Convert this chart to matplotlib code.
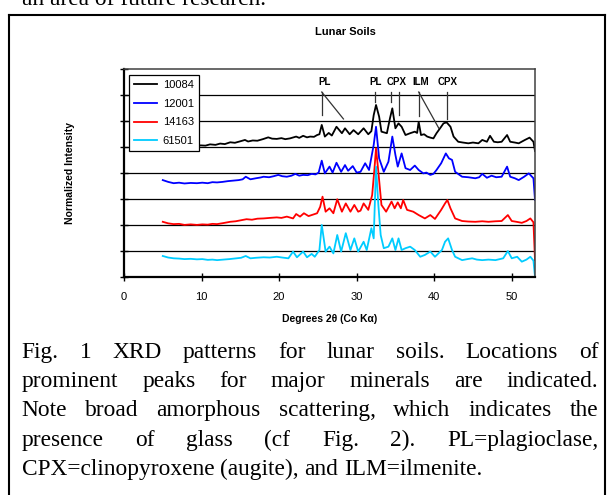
import matplotlib
matplotlib.use("Agg")
import matplotlib.pyplot as plt
from matplotlib.lines import Line2D

# sample names and colours
samples = ["10084", "12001", "14163", "61501"]
colors = ["#000000", "#0000FF", "#FF0000", "#00CCFF"]

# 10084 (offset trace, top)
x_10084 = [5.0, 5.6, 6.3, 7.0, 7.7, 8.4, 9.2, 9.9, 10.5, 11.1, 11.8, 12.4, 13.0, 13.7, 14.3, 14.9,
           15.6, 16.0, 16.6, 17.2, 17.9, 18.6, 19.1, 19.7, 20.3, 20.8, 21.4, 22.2, 22.6, 23.1, 23.6,
           24.0, 24.5, 24.9, 25.2, 25.5, 25.9, 26.4, 26.8, 27.4, 28.1, 28.5, 29.1, 29.6, 30.2, 30.9,
           31.5, 31.9, 32.2, 32.5, 32.9, 33.2, 33.9, 34.3, 34.6, 35.0, 35.4, 35.8, 36.3, 36.9, 37.5,
           37.8, 38.0, 38.3, 38.7, 39.1, 39.5, 39.9, 40.3, 40.9, 41.2, 41.6, 42.1, 42.5, 43.1, 43.7,
           44.4, 45.0, 45.7, 46.2, 46.8, 47.2, 47.7, 48.2, 48.7, 49.4, 49.8, 50.4, 50.9, 51.7, 52.3,
           52.8, 53.0]
y_10084 = [5.03, 5.01, 5.03, 5.02, 5.04, 5.03, 5.05, 5.07, 5.06, 5.11, 5.09, 5.14, 5.12, 5.19, 5.17, 5.22,
           5.28, 5.22, 5.26, 5.25, 5.31, 5.38, 5.33, 5.32, 5.35, 5.31, 5.34, 5.41, 5.36, 5.44, 5.38,
           5.41, 5.40, 5.47, 5.50, 5.86, 5.41, 5.55, 5.45, 5.79, 5.54, 5.73, 5.50, 5.66, 5.50, 5.73,
           5.50, 5.62, 6.24, 6.63, 6.18, 5.60, 5.54, 6.12, 6.50, 5.73, 5.92, 5.79, 5.47, 5.54, 5.60,
           5.55, 5.98, 5.47, 5.50, 5.41, 5.37, 5.34, 5.54, 5.79, 5.92, 5.96, 5.79, 5.41, 5.21, 5.18,
           5.15, 5.18, 5.15, 5.28, 5.21, 5.44, 5.21, 5.19, 5.21, 5.47, 5.21, 5.18, 5.15, 5.28, 5.37,
           5.21, 4.85]

# 12001
x_12001 = [5.0, 5.7, 6.4, 7.1, 7.8, 8.6, 9.4, 10.1, 10.8, 11.4, 12.0, 12.7, 13.4, 14.1, 14.8, 15.3,
           15.7, 16.3, 17.0, 17.6, 18.0, 18.7, 19.3, 19.9, 20.4, 21.0, 21.6, 22.1, 22.6, 23.1, 23.7,
           24.2, 24.7, 25.1, 25.5, 25.9, 26.5, 26.9, 27.4, 28.0, 28.5, 28.9, 29.5, 30.0, 30.5, 31.1,
           31.6, 32.2, 32.5, 32.9, 33.5, 34.1, 34.6, 35.0, 35.3, 35.8, 36.3, 36.9, 37.5, 38.0, 38.6,
           39.0, 39.5, 39.9, 40.3, 40.9, 41.5, 41.9, 42.3, 42.7, 43.6, 44.4, 45.3, 45.8, 46.2, 46.8,
           47.4, 48.0, 48.7, 49.4, 49.8, 50.4, 50.9, 51.6, 52.2, 52.8, 53.0]
y_12001 = [3.73, 3.66, 3.61, 3.63, 3.60, 3.62, 3.61, 3.63, 3.61, 3.65, 3.64, 3.66, 3.69, 3.71, 3.73, 3.76,
           3.86, 3.76, 3.80, 3.83, 3.86, 3.84, 3.88, 3.93, 3.88, 3.86, 3.90, 3.97, 3.90, 3.93, 3.92,
           3.97, 3.95, 4.02, 4.48, 3.99, 4.25, 4.02, 4.40, 4.05, 4.31, 4.09, 4.27, 4.02, 4.05, 4.38,
           4.12, 5.09, 5.79, 4.57, 4.05, 4.44, 5.41, 4.70, 4.25, 4.76, 4.19, 4.12, 4.29, 4.12, 3.99,
           4.02, 3.93, 3.97, 4.12, 4.38, 4.76, 4.57, 4.51, 4.05, 3.86, 3.84, 3.80, 3.84, 3.97, 3.82,
           3.90, 3.84, 3.86, 4.25, 3.86, 3.80, 3.73, 3.86, 3.99, 3.80, 2.96]

# 14163
x_14163 = [5.0, 5.7, 6.4, 7.1, 7.8, 8.6, 9.4, 10.1, 10.8, 11.4, 12.0, 12.8, 13.7, 14.4, 15.1, 15.8,
           16.5, 17.2, 18.0, 18.8, 19.7, 20.3, 21.0, 21.8, 22.2, 22.7, 23.2, 23.8, 24.4, 24.9, 25.3,
           25.6, 26.0, 26.5, 27.0, 27.5, 28.1, 28.6, 29.2, 29.7, 30.2, 30.5, 30.9, 31.5, 32.0, 32.3,
           32.5, 32.8, 33.2, 33.8, 34.5, 34.9, 35.3, 35.7, 36.0, 36.5, 37.3, 38.0, 38.8, 39.5, 40.1,
           40.9, 41.4, 41.7, 42.1, 42.7, 43.6, 44.4, 45.3, 46.2, 47.0, 47.9, 48.7, 49.5, 50.0, 50.6,
           51.3, 51.9, 52.4, 52.8, 53.0]
y_14163 = [2.12, 2.06, 2.03, 2.04, 2.00, 2.02, 2.00, 2.02, 2.01, 2.04, 2.03, 2.07, 2.12, 2.14, 2.18, 2.22,
           2.20, 2.24, 2.25, 2.27, 2.29, 2.27, 2.32, 2.25, 2.42, 2.32, 2.45, 2.34, 2.40, 2.45, 2.70,
           3.09, 2.51, 2.64, 2.45, 2.99, 2.51, 2.83, 2.51, 2.77, 2.51, 2.55, 2.83, 2.58, 3.15, 4.18,
           4.96, 4.05, 2.77, 2.51, 2.90, 2.64, 2.87, 2.64, 2.96, 2.58, 2.51, 2.38, 2.25, 2.38, 2.23,
           2.58, 2.83, 2.96, 2.64, 2.25, 2.15, 2.13, 2.12, 2.14, 2.12, 2.14, 2.15, 2.38, 2.15, 2.12,
           2.08, 2.15, 2.25, 2.10, 0.64]

# 61501 (bottom)
x_61501 = [5.0, 5.7, 6.4, 7.1, 7.8, 8.6, 9.4, 10.1, 10.8, 11.4, 12.0, 12.8, 13.6, 14.5, 15.1, 15.7,
           16.3, 17.0, 18.0, 18.8, 19.7, 20.4, 21.2, 21.8, 22.3, 23.1, 23.6, 24.2, 24.6, 25.2, 25.5,
           26.0, 26.5, 27.0, 27.5, 28.0, 28.6, 29.2, 29.7, 30.2, 30.9, 31.3, 31.9, 32.2, 32.5, 32.8,
           33.1, 33.5, 34.1, 34.6, 35.0, 35.4, 35.8, 36.3, 36.9, 37.5, 38.2, 38.8, 39.5, 40.1, 41.0,
           41.4, 41.8, 42.3, 42.7, 43.6, 44.3, 44.9, 45.5, 46.2, 47.0, 47.9, 48.9, 49.5, 50.0, 50.7,
           51.3, 51.9, 52.4, 52.8, 53.0]
y_61501 = [0.80, 0.74, 0.71, 0.70, 0.68, 0.69, 0.67, 0.68, 0.65, 0.66, 0.64, 0.66, 0.68, 0.71, 0.73, 0.80,
           0.71, 0.73, 0.75, 0.74, 0.77, 0.74, 0.71, 0.97, 0.75, 0.97, 0.75, 0.88, 0.77, 1.03, 2.00,
           0.97, 1.16, 0.90, 1.61, 0.97, 1.68, 1.03, 1.48, 0.97, 1.35, 1.03, 1.87, 1.48, 4.25, 2.77,
           1.61, 1.10, 1.16, 1.48, 1.03, 1.48, 1.03, 1.10, 1.16, 1.03, 0.77, 0.84, 0.97, 0.77, 1.03,
           1.35, 1.48, 1.03, 0.77, 0.64, 0.68, 0.71, 0.66, 0.64, 0.66, 0.64, 0.71, 0.99, 0.71, 0.77,
           0.58, 0.66, 0.77, 0.62, 0.00]

# mineral peak labels
peak_names = ["PL", "PL", "CPX", "ILM", "CPX"]
peak_label_x = [25.9, 32.4, 35.2, 38.2, 41.7]
# marker lines: (x top, x bottom, y bottom)
marker_x_top = [25.5, 25.5, 32.4, 34.45, 35.4, 38.0, 38.0, 41.7]
marker_x_end = [25.5, 28.3, 32.4, 34.45, 35.4, 38.0, 40.6, 41.7]
marker_y_end = [6.24, 6.09, 6.73, 6.73, 6.24, 6.22, 5.73, 6.09]

caption_lines = [
    "Fig. 1 XRD patterns for lunar soils. Locations of",
    "prominent peaks for major minerals are indicated.",
    "Note broad amorphous scattering, which indicates the",
    "presence of glass (cf Fig. 2). PL=plagioclase,",
    "CPX=clinopyroxene (augite), and ILM=ilmenite.",
]

W, H = 612, 495
plt.rcParams["font.family"] = ["Liberation Sans", "DejaVu Sans"]
fig = plt.figure(figsize=(W / 100, H / 100), dpi=100)
ax = fig.add_axes([124 / W, 1 - 276.7 / H, 411 / W, 207.2 / H])

xs_all = [x_10084, x_12001, x_14163, x_61501]
ys_all = [y_10084, y_12001, y_14163, y_61501]
for xs, ys, c, lab in zip(xs_all, ys_all, colors, samples):
    ax.plot(xs, ys, color=c, lw=1.3, label=lab)

for yv in range(1, 8):
    ax.axhline(yv, color="black", lw=0.9, zorder=0)

ax.set_xlim(0, 53)
ax.set_ylim(0, 8)
ax.set_xticks(range(0, 51, 10))
ax.set_yticks(range(0, 9))
ax.set_yticklabels([])
ax.tick_params(direction="inout", length=6, width=1, labelsize=8, pad=8)
for s in ["left", "bottom"]:
    ax.spines[s].set_linewidth(1.6)
for s in ["top", "right"]:
    ax.spines[s].set_linewidth(1.1)
    ax.spines[s].set_color("#404040")

ax.set_xlabel("Degrees 2θ (Co Kα)", fontsize=7.5, weight="bold")
ax.xaxis.label.set_va("center")
ax.xaxis.set_label_coords(0.5, (276.7 - 319) / 207.2)
ax.set_ylabel("Normalized Intensity", fontsize=7.5, weight="bold")
ax.yaxis.label.set_va("center")
ax.yaxis.set_label_coords((70 - 124) / 411, 0.5)

# peak annotations
for name, lx in zip(peak_names, peak_label_x):
    ax.text(lx, 7.53, name, fontsize=7, weight="bold", ha="center", va="center")
for x0, x1, y1 in zip(marker_x_top, marker_x_end, marker_y_end):
    ax.plot([x0, x1], [7.13, y1], color="#333333", lw=0.9)

leg = ax.legend(loc="upper left", bbox_to_anchor=(0.012, 0.973), borderaxespad=0,
                fontsize=8, frameon=True, fancybox=False, framealpha=1,
                edgecolor="black", handlelength=2.1, handletextpad=0.5,
                labelspacing=0.78, borderpad=0.45)
leg.get_frame().set_linewidth(0.9)

fig.text(345 / W, 1 - 32 / H, "Lunar Soils", fontsize=8, weight="bold",
         ha="center", va="center")

# page border around the figure
fig.add_artist(Line2D([9 / W, 9 / W], [0, 1 - 15 / H], color="black", lw=1.5))
fig.add_artist(Line2D([9 / W, 605 / W], [1 - 15 / H, 1 - 15 / H], color="black", lw=1.5))
fig.add_artist(Line2D([605 / W, 605 / W], [0, 1 - 15 / H], color="black", lw=1.5))

# text of the page, cut off above the box
serif = ["Liberation Serif", "DejaVu Serif"]
cap_size = 16.8
fig.text(22 / W, 1 - 5 / H, "an area of future research.", family=serif,
         fontsize=cap_size, va="baseline")

# justified caption
renderer = fig.canvas.get_renderer()
x_left, x_right = 21.7, 598.3
for i, line in enumerate(caption_lines):
    y_px = 358 + i * 29.2
    words = line.split(" ")
    texts = [fig.text(0, 1 - y_px / H, w, family=serif, fontsize=cap_size, va="baseline")
             for w in words]
    widths = [t.get_window_extent(renderer).width for t in texts]
    if i < len(caption_lines) - 1:
        gap = (x_right - x_left - sum(widths)) / (len(words) - 1)
    else:
        gap = cap_size * 100 / 72 * 0.25
    xp = x_left
    for t, w in zip(texts, widths):
        t.set_x(xp / W)
        xp += w + gap

fig.savefig("out.png", dpi=100)
